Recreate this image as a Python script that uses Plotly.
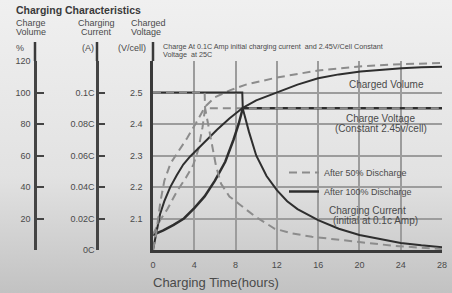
import base64
import plotly.graph_objects as go

# ---------------- data ----------------
hour_ticks = [0, 4, 8, 12, 16, 20, 24, 28]
volt_ticks = [2.1, 2.2, 2.3, 2.4, 2.5, 2.6]
volt_labels = ["2.1", "2.2", "2.3", "2.4", "2.5", ""]
pct_ticks = [0, 20, 40, 60, 80, 100, 120]
pct_labels = ["", "20", "40", "60", "80", "100", "120"]
cur_ticks = [0, 0.02, 0.04, 0.06, 0.08, 0.10, 0.12]
cur_labels = ["0C", "0.02C", "0.04C", "0.06C", "0.08C", "0.1C", ""]

# After 100% discharge
volt100_t = [0, 1, 2, 3, 4, 5, 6, 7, 7.8, 8.3, 8.7, 28]
volt100_v = [2.048, 2.062, 2.08, 2.10, 2.133, 2.17, 2.22, 2.28, 2.35, 2.40, 2.45, 2.45]
vol100_t = [0, 0.3, 0.68, 1.1, 1.66, 2.3, 2.93, 3.6, 4.5, 5.3, 6.2, 7.4, 8.7, 10, 12.1, 14, 16, 18, 20.1, 22, 24.1, 26, 28]
vol100_p = [0, 11, 22.7, 31, 39.8, 47.5, 54.3, 59.4, 65.5, 70.5, 76.4, 83.5, 90.3, 95, 100.4, 105, 109, 111.5, 113.3, 114.5, 115.4, 116, 116.3]
cur100_t = [0, 8.65, 8.7, 9.3, 10, 11, 12, 13, 14, 16, 18, 20, 22, 24, 26, 28]
cur100_c = [0.1, 0.1, 0.0897, 0.075, 0.06, 0.047, 0.038, 0.031, 0.026, 0.019, 0.0135, 0.0095, 0.007, 0.0045, 0.003, 0.0018]

# After 50% discharge
volt50_t = [0, 0.7, 1.4, 2.3, 3.2, 3.9, 4.4, 4.8, 5.05, 28]
volt50_v = [2.05, 2.095, 2.13, 2.185, 2.23, 2.27, 2.32, 2.39, 2.45, 2.45]
vol50_t = [0, 0.3, 0.7, 1.1, 1.7, 2.5, 3.3, 4.2, 5.05, 6, 7.5, 9, 12, 16, 20, 24, 28]
vol50_p = [0, 10, 30, 44, 55, 63, 71, 81, 91, 97, 101.5, 105, 109.5, 114, 116.5, 118, 118.7]
cur50_t = [0, 5.0, 5.05, 5.6, 6.1, 6.6, 7.4, 8.3, 9.9, 11.8, 13.5, 15.4, 18, 20, 23.4, 28]
cur50_c = [0.1, 0.1, 0.09, 0.07, 0.0535, 0.042, 0.034, 0.0294, 0.0213, 0.0135, 0.0105, 0.0084, 0.0065, 0.0052, 0.0026, 0.0006]

# ---------------- geometry helpers ----------------
W, H = 452, 293
ML, MR, MT, MB = 0, 10, 61, 43
PW = W - ML - MR
PH = H - MT - MB


def px(x):
    return (x - ML) / PW


def py(y):
    return (H - MB - y) / PH


FONT = "Liberation Sans, Arial, sans-serif"
TXT = "#4a4a4a"
SOLID = dict(color="#2e2e2e", width=2)
DASH = dict(color="#8c8c8c", width=2, dash="8px,5px")

fig = go.Figure()

# solid curves (after 100%)
fig.add_trace(go.Scatter(x=vol100_t, y=vol100_p, yaxis="y2", mode="lines", line=SOLID,
                         showlegend=False, hoverinfo="skip"))
fig.add_trace(go.Scatter(x=cur100_t, y=cur100_c, yaxis="y3", mode="lines", line=SOLID,
                         showlegend=False, hoverinfo="skip"))
fig.add_trace(go.Scatter(x=volt100_t, y=volt100_v, yaxis="y", mode="lines",
                         line=dict(color="#2e2e2e", width=2.5),
                         name="After 100% Discharge", legendrank=2))
# dashed curves (after 50%)
fig.add_trace(go.Scatter(x=vol50_t, y=vol50_p, yaxis="y2", mode="lines", line=DASH,
                         showlegend=False, hoverinfo="skip"))
fig.add_trace(go.Scatter(x=cur50_t, y=cur50_c, yaxis="y3", mode="lines", line=DASH,
                         showlegend=False, hoverinfo="skip"))
fig.add_trace(go.Scatter(x=volt50_t, y=volt50_v, yaxis="y", mode="lines", line=DASH,
                         name="After 50% Discharge", legendrank=1))

axis_font = dict(family=FONT, size=9, color=TXT)

fig.update_layout(
    width=W, height=H,
    margin=dict(l=ML, r=MR, t=MT, b=MB, pad=0, autoexpand=False),
    paper_bgcolor="#e2e2e2",
    plot_bgcolor="rgba(247,247,247,0.75)",
    font=dict(family=FONT, color=TXT),
    xaxis=dict(domain=[px(153), 1], range=[0, 28], tickvals=hour_ticks,
               showgrid=True, gridcolor="#9c9c9c", gridwidth=1.5,
               showline=True, linecolor="#3a3a3a", linewidth=2.5,
               ticks="", zeroline=False, tickfont=axis_font, anchor="y",
               ticklabelstandoff=4, automargin=False),
    yaxis=dict(range=[2.0, 2.6], tickvals=volt_ticks, ticktext=volt_labels,
               showgrid=True, gridcolor="#9c9c9c", gridwidth=1.5,
               showline=True, linecolor="#3a3a3a", linewidth=2.5,
               ticks="", zeroline=False, tickfont=axis_font, anchor="x",
               ticklabelstandoff=6, automargin=False),
    yaxis2=dict(range=[0, 120], overlaying="y", anchor="free", position=px(35), side="left",
                tickvals=pct_ticks, ticktext=pct_labels, showgrid=False, zeroline=False,
                showline=True, linecolor="#444", linewidth=2.5,
                ticks="inside", ticklen=7, tickwidth=2, tickcolor="#444",
                tickfont=axis_font, ticklabelstandoff=2, automargin=False),
    yaxis3=dict(range=[0, 0.12], overlaying="y", anchor="free", position=px(97), side="left",
                tickvals=cur_ticks, ticktext=cur_labels, showgrid=False, zeroline=False,
                showline=True, linecolor="#444", linewidth=2.5,
                ticks="inside", ticklen=6, tickwidth=2, tickcolor="#444",
                tickfont=axis_font, ticklabelstandoff=0, automargin=False),
    legend=dict(x=px(284), y=py(158), xanchor="left", yanchor="top",
                bgcolor="rgba(0,0,0,0)", font=dict(family=FONT, size=9, color=TXT),
                tracegroupgap=0),
)

# background gradient
svg = ('<svg xmlns="http://www.w3.org/2000/svg" width="452" height="293">'
       '<defs><linearGradient id="g" x1="0" y1="0" x2="0" y2="1">'
       '<stop offset="0" stop-color="#f0f0f0"/><stop offset="0.6" stop-color="#e2e2e2"/>'
       '<stop offset="1" stop-color="#c2c2c2"/></linearGradient></defs>'
       '<rect width="452" height="293" fill="url(#g)"/></svg>')
src = "data:image/svg+xml;base64," + base64.b64encode(svg.encode()).decode()
fig.add_layout_image(dict(source=src, xref="paper", yref="paper", x=px(0), y=py(0),
                          sizex=W / PW, sizey=H / PH, xanchor="left", yanchor="top",
                          sizing="stretch", layer="below"))

# axis line extensions above plot area
for xp in (35, 97, 153):
    fig.add_shape(type="line", xref="paper", yref="paper", x0=px(xp), x1=px(xp),
                  y0=1, y1=py(42), line=dict(color="#3a3a3a", width=2.5))


def ann(text, x, y, size, xanchor="left", bold=False, color=TXT):
    fig.add_annotation(text=f"<b>{text}</b>" if bold else text, x=px(x), y=py(y),
                       xref="paper", yref="paper", xanchor=xanchor, yanchor="middle",
                       showarrow=False, font=dict(family=FONT, size=size, color=color))


ann("Charging Characteristics", 14, 10, 10.5, bold=True, color="#3a3a3a")
ann("Charge", 14, 23, 9)
ann("Volume", 14, 32, 9)
ann("Charging", 76, 23, 9)
ann("Current", 79, 32, 9)
ann("Charged", 129, 23, 9)
ann("Voltage", 129, 32, 9)
ann("%", 14, 48, 9)
ann("(A)", 80, 48, 9)
ann("(V/cell)", 116, 48, 9)
ann("Charge At 0.1C Amp initial charging current&nbsp; and 2.45V/Cell Constant", 161, 47, 7.2)
ann("Voltage&nbsp; at 25C", 161, 54, 7.2)
ann("Charged Volume", 386, 84, 10, xanchor="center")
ann("Charge Voltage", 380, 118, 10, xanchor="center")
ann("(Constant 2.45v/cell)", 381, 128, 10, xanchor="center")
ann("Charging Current", 367, 210, 10, xanchor="center")
ann("(initial at 0.1c Amp)", 375, 220, 10, xanchor="center")
ann("Charging Time(hours)", 151, 282, 13)

fig.write_html("out.html", config={"displayModeBar": False},
               post_script="document.body.style.margin='0';document.body.style.overflow='hidden';")
